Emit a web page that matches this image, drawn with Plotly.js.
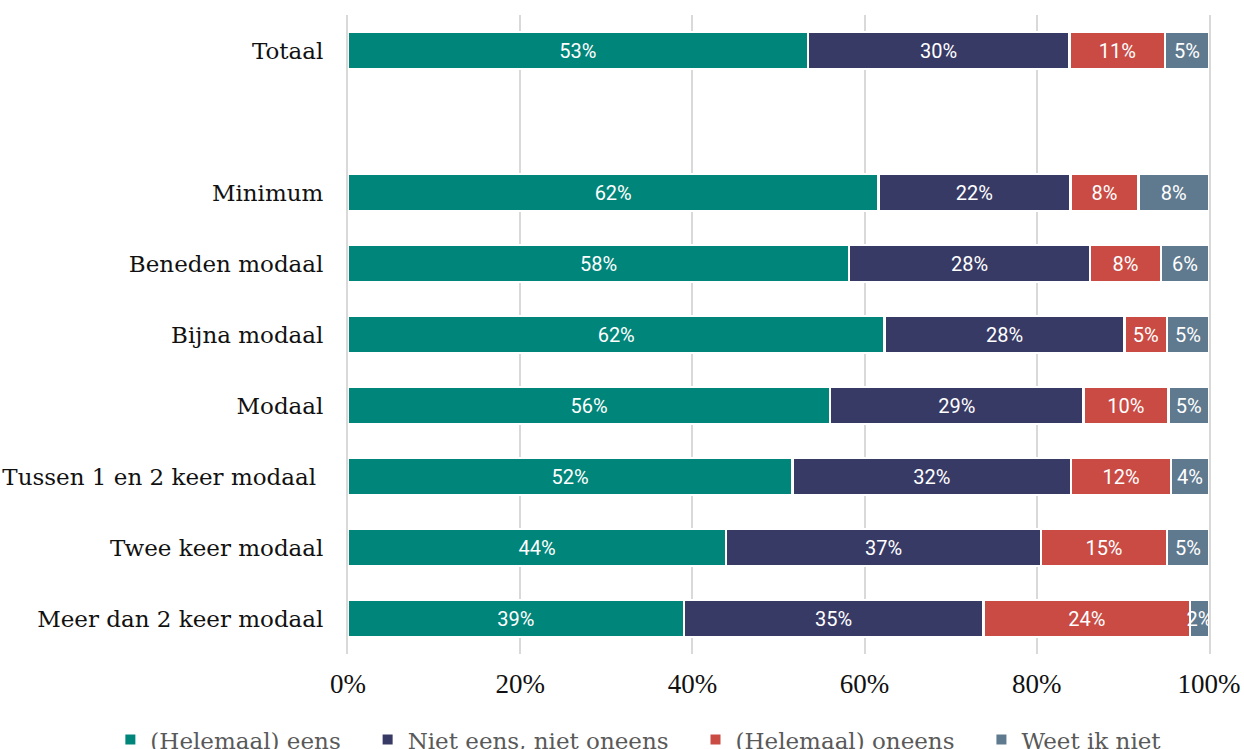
<!DOCTYPE html>
<html>
<head>
<meta charset="utf-8">
<script src="https://cdn.plot.ly/plotly-3.0.1.min.js"></script>
<style>html,body{margin:0;padding:0;background:#fff;}#chart{width:1244px;height:749px;}</style>
</head>
<body>
<div id="chart"></div>
<script>
const categories = ["Totaal", " ", "Minimum", "Beneden modaal", "Bijna modaal", "Modaal", "Tussen 1 en 2 keer modaal\u00a0", "Twee keer modaal", "Meer dan 2 keer modaal"];
const dataCategories = ["Totaal", "Minimum", "Beneden modaal", "Bijna modaal", "Modaal", "Tussen 1 en 2 keer modaal\u00a0", "Twee keer modaal", "Meer dan 2 keer modaal"];
const seriesNames = ["(Helemaal) eens", "Niet eens, niet oneens", "(Helemaal) oneens", "Weet ik niet"];
const eens      = [53.4, 61.6, 58.2, 62.3, 56.0, 51.6, 43.9, 39.0];
const neutraal  = [30.4, 22.3, 28.0, 27.9, 29.4, 32.4, 36.6, 34.8];
const oneens    = [11.1,  7.9,  8.2,  4.9,  9.9, 11.6, 14.6, 24.0];
const weetNiet  = [ 5.1,  8.2,  5.6,  4.9,  4.7,  4.4,  4.9,  2.2];
const colors = ["#00857a", "#383a66", "#c94b44", "#5f7a8f"];
const tickValues = [0, 20, 40, 60, 80, 100];
const tickLabels = ["0%", "20%", "40%", "60%", "80%", "100%"];

const pad = "\u00a0\u00a0\u00a0";
const series = [eens, neutraal, oneens, weetNiet];
const traces = series.map((vals, i) => ({
  type: 'bar',
  orientation: 'h',
  name: seriesNames[i] + (i < 3 ? pad : ""),
  x: vals,
  y: dataCategories,
  marker: {color: colors[i], line: {color: '#ffffff', width: 2.5}},
  texttemplate: '%{x:.0f}%',
  textposition: 'inside',
  insidetextanchor: 'middle',
  textangle: 0,
  textfont: {family: 'Roboto, sans-serif', size: 20, color: '#ffffff'},
  constraintext: 'none',
  hoverinfo: 'skip'
}));

const layout = {
  width: 1244, height: 749,
  margin: {l: 348, r: 35, t: 15, b: 95, autoexpand: false},
  barmode: 'stack',
  bargap: 0.48,
  paper_bgcolor: '#ffffff',
  plot_bgcolor: '#ffffff',
  showlegend: true,
  uniformtext: {mode: 'show', minsize: 20},
  xaxis: {
    range: [0, 100],
    tickmode: 'array',
    tickvals: tickValues,
    ticktext: tickLabels,
    showgrid: true,
    gridcolor: '#d9d9d9',
    gridwidth: 2,
    zeroline: false,
    showline: false,
    ticks: '',
    tickfont: {family: 'Liberation Serif, serif', size: 27, color: '#111111'},
    ticklabelstandoff: 11
  },
  yaxis: {
    type: 'category',
    categoryorder: 'array',
    categoryarray: categories,
    autorange: 'reversed',
    showgrid: false,
    zeroline: false,
    showline: true,
    mirror: true,
    linecolor: '#d9d9d9',
    linewidth: 2,
    layer: 'below traces',
    ticks: '',
    tickfont: {family: 'DejaVu Serif, serif', size: 23, color: '#111111'},
    ticklabelstandoff: 18
  },
  legend: {
    orientation: 'h',
    xref: 'paper', yref: 'paper',
    x: -0.276, xanchor: 'left',
    y: -0.134, yanchor: 'middle',
    traceorder: 'normal',
    font: {family: 'DejaVu Serif, serif', size: 23, color: '#595959'},
    itemwidth: 30,
    itemsizing: 'constant'
  }
};

Plotly.newPlot('chart', traces, layout, {staticPlot: true, displayModeBar: false});
</script>
</body>
</html>
